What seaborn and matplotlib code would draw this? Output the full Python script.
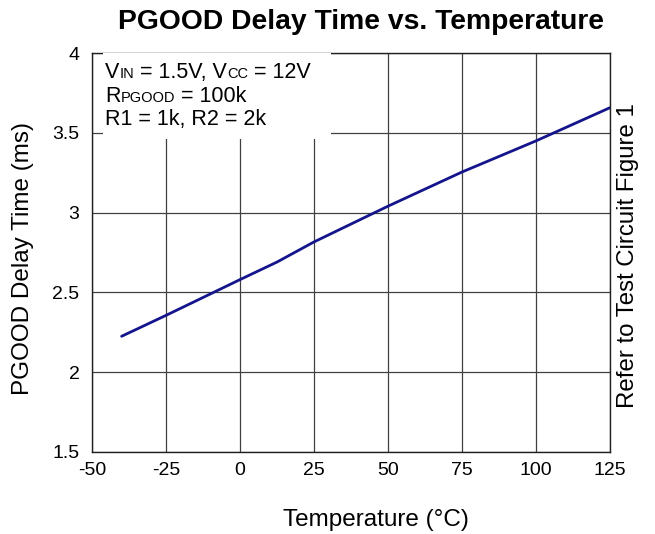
import numpy as np
import pandas as pd
import seaborn as sns
import matplotlib
matplotlib.use("Agg")
import matplotlib.pyplot as plt
from matplotlib.patches import Rectangle

# values
temperature = [-40, -25, 0, 12.5, 25, 50, 75, 100, 125]
delay_ms = [2.225, 2.356, 2.58, 2.69, 2.816, 3.04, 3.254, 3.449, 3.657]

x_ticks = [-50, -25, 0, 25, 50, 75, 100, 125]
x_labels = ["-50", "-25", "0", "25", "50", "75", "100", "125"]
y_ticks = [1.5, 2, 2.5, 3, 3.5, 4]
y_labels = ["1.5", "2", "2.5", "3", "3.5", "4"]

# condition notes: (text, is_subscript) runs per line
note_lines = [
    [("V", False), ("IN", True), (" = 1.5V, V", False), ("CC", True), (" = 12V", False)],
    [("R", False), ("PGOOD", True), (" = 100k", False)],
    [("R1 = 1k, R2 = 2k", False)],
]

sns.set_style("white")
plt.rcParams["font.family"] = ["Liberation Sans", "DejaVu Sans"]
for k in ["text.color", "axes.labelcolor", "xtick.color", "ytick.color"]:
    plt.rcParams[k] = "black"

df = pd.DataFrame({"Temperature": temperature, "Delay": delay_ms})

fig = plt.figure(figsize=(6.55, 5.34), dpi=100)
ax = fig.add_axes([0.1405, 0.1536, 0.7905, 0.7471])

sns.lineplot(data=df, x="Temperature", y="Delay", ax=ax, color="#14148c", linewidth=2)

ax.set_xlim(-50, 125)
ax.set_ylim(1.5, 4)
ax.set_xticks(x_ticks)
ax.set_xticklabels(x_labels)
ax.set_yticks(y_ticks)
ax.set_yticklabels(y_labels)
ax.tick_params(length=0, labelsize=14)
ax.tick_params(axis="x", pad=7)
ax.tick_params(axis="y", pad=9)
ax.grid(True, color="#404040", linewidth=0.9)
ax.set_axisbelow(True)
for s in ax.spines.values():
    s.set_color("#202020")
    s.set_linewidth(1)

ax.set_xlabel("Temperature (°C)", fontsize=17.5)
ax.xaxis.set_label_coords(0.548, -0.142)
ax.set_ylabel("PGOOD Delay Time (ms)", fontsize=17.5)
ax.yaxis.set_label_coords(-0.112, 0.484)

fig.text(0.551, 0.958, "PGOOD Delay Time vs. Temperature", fontsize=20.3,
         fontweight="bold", ha="center", va="center")

# white box behind the notes, hiding the grid there
ax.add_patch(Rectangle((0.021, 0.784), 0.44, 0.215, transform=ax.transAxes,
                       facecolor="white", edgecolor="none", zorder=3))

renderer = fig.canvas.get_renderer()
inv = ax.transAxes.inverted()
for y, runs in zip([0.937, 0.877, 0.82], note_lines):
    x = 0.025
    for txt, sub in runs:
        t = ax.text(x, y, txt, transform=ax.transAxes, ha="left", va="baseline",
                    fontsize=10.5 if sub else 15.5, zorder=4)
        bb = t.get_window_extent(renderer)
        x = inv.transform((bb.x1, bb.y0))[0]

fig.text(0.959, 0.521, "Refer to Test Circuit Figure 1", rotation=90,
         ha="center", va="center", fontsize=17.3)

fig.savefig("out.png", dpi=100)
